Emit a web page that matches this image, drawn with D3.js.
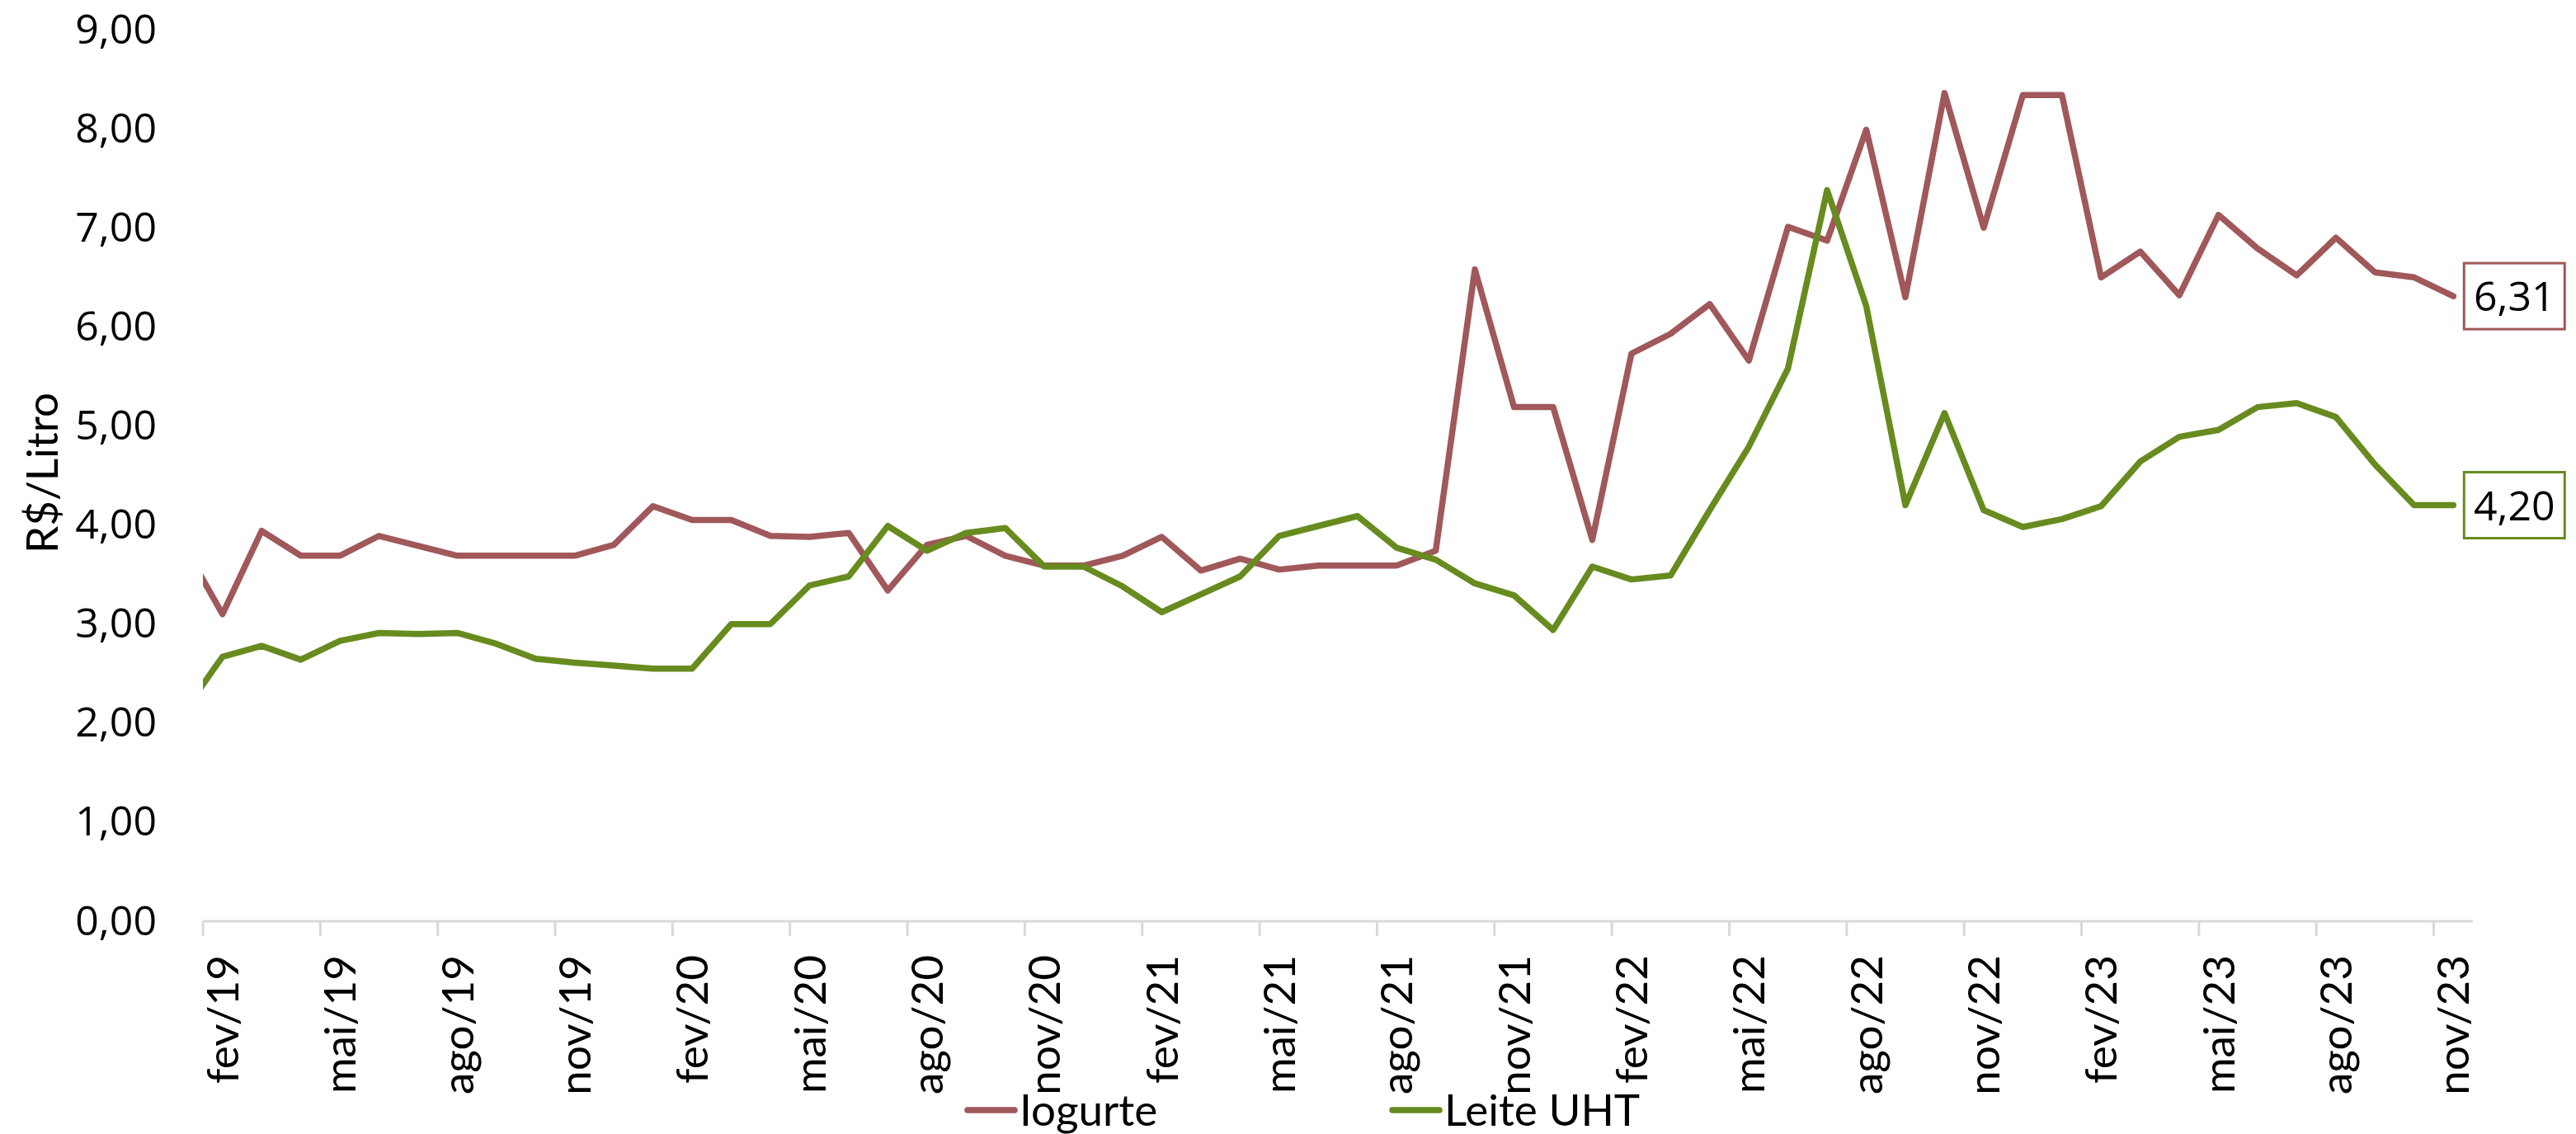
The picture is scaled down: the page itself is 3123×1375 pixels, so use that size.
<!DOCTYPE html>
<html>
<head>
<meta charset="utf-8">
<script src="https://cdn.jsdelivr.net/npm/d3@7"></script>
<style>
  body { margin: 0; background: #fff; }
  svg { display: block; }
  .tick text { fill: #000; }
</style>
</head>
<body>
<svg></svg>
<script>
// months, jan/19 sits just left of the plot and is clipped (axis starts at fev/19)
const months = [
  "jan/19","fev/19","mar/19","abr/19","mai/19","jun/19","jul/19","ago/19","set/19","out/19","nov/19","dez/19",
  "jan/20","fev/20","mar/20","abr/20","mai/20","jun/20","jul/20","ago/20","set/20","out/20","nov/20","dez/20",
  "jan/21","fev/21","mar/21","abr/21","mai/21","jun/21","jul/21","ago/21","set/21","out/21","nov/21","dez/21",
  "jan/22","fev/22","mar/22","abr/22","mai/22","jun/22","jul/22","ago/22","set/22","out/22","nov/22","dez/22",
  "jan/23","fev/23","mar/23","abr/23","mai/23","jun/23","jul/23","ago/23","set/23","out/23","nov/23"
];

const iogurte = [
  3.80, 3.10, 3.94, 3.69, 3.69, 3.89, 3.79, 3.69, 3.69, 3.69, 3.69, 3.80,
  4.19, 4.05, 4.05, 3.89, 3.88, 3.92, 3.34, 3.80, 3.89, 3.69, 3.59, 3.59,
  3.69, 3.88, 3.54, 3.66, 3.55, 3.59, 3.59, 3.59, 3.74, 6.58, 5.19, 5.19,
  3.85, 5.73, 5.93, 6.23, 5.66, 7.01, 6.87, 7.99, 6.30, 8.36, 7.00, 8.34,
  8.34, 6.50, 6.76, 6.32, 7.13, 6.79, 6.52, 6.90, 6.55, 6.50, 6.31
];

const leite = [
  2.11, 2.67, 2.78, 2.64, 2.83, 2.91, 2.90, 2.91, 2.80, 2.65, 2.61, 2.58,
  2.55, 2.55, 3.00, 3.00, 3.39, 3.48, 3.99, 3.74, 3.92, 3.97, 3.58, 3.58,
  3.38, 3.12, 3.30, 3.48, 3.89, 3.99, 4.09, 3.77, 3.65, 3.41, 3.29, 2.94,
  3.58, 3.45, 3.49, 4.15, 4.79, 5.58, 7.38, 6.21, 4.20, 5.13, 4.15, 3.98,
  4.06, 4.19, 4.64, 4.89, 4.96, 5.19, 5.23, 5.09, 4.61, 4.20, 4.20
];

const yTicks = [0, 1, 2, 3, 4, 5, 6, 7, 8, 9];
const xLabels = months.filter((m, i) => i > 0 && (i - 1) % 3 === 0);

const series = [
  { name: "Iogurte", values: iogurte, color: "#a0585a" },
  { name: "Leite UHT", values: leite, color: "#678b1f" }
];

const W = 3123, H = 1375;
const plot = { left: 246, right: 2998, top: 36, bottom: 1117 };
const step = (plot.right - plot.left) / (months.length - 1);

const svg = d3.select("svg").attr("width", W).attr("height", H);
svg.append("rect").attr("width", W).attr("height", H).attr("fill", "#fff");

const x = d3.scaleBand()
    .domain(months)
    .range([plot.left - step, plot.right])
    .paddingInner(0).paddingOuter(0);
const cx = m => x(m) + x.bandwidth() / 2;

const y = d3.scaleLinear().domain([0, 9]).range([plot.bottom, plot.top]);
const fmt = v => d3.format(".2f")(v).replace(".", ",");

svg.append("clipPath").attr("id", "plotclip")
  .append("rect")
    .attr("x", plot.left).attr("y", 0)
    .attr("width", plot.right - plot.left).attr("height", H);

// y axis (labels only)
const yAxis = svg.append("g")
    .attr("transform", "translate(" + plot.left + ",0)")
    .call(d3.axisLeft(y).tickValues(yTicks).tickFormat(fmt).tickSize(0).tickPadding(56));
yAxis.select(".domain").remove();
yAxis.selectAll("text")
    .style("font-family", "'Open Sans', sans-serif")
    .style("font-size", "50px");

svg.append("text")
    .attr("transform", "translate(70," + ((plot.top + plot.bottom) / 2 - 3) + ") rotate(-90)")
    .attr("text-anchor", "middle")
    .style("font-family", "Lato, sans-serif")
    .style("font-size", "53px")
    .text("R$/Litro");

// x axis
const xAxis = svg.append("g")
    .attr("transform", "translate(0," + plot.bottom + ")")
    .call(d3.axisBottom(x).tickValues(xLabels).tickSize(18));
xAxis.select(".domain").remove();
xAxis.selectAll(".tick line")
    .attr("x1", -step / 2).attr("x2", -step / 2)
    .attr("stroke", "#d9d9d9").attr("stroke-width", 3);
xAxis.selectAll(".tick text")
    .attr("transform", "rotate(-90)")
    .attr("x", -41).attr("y", 0).attr("dy", "0.36em")
    .style("text-anchor", "end")
    .style("font-family", "Lato, sans-serif")
    .style("font-size", "53px");
xAxis.append("line")
    .attr("x1", plot.left).attr("x2", plot.right)
    .attr("y1", 0).attr("y2", 0)
    .attr("stroke", "#d9d9d9").attr("stroke-width", 3);

// lines
const line = d3.line()
    .x((d, i) => cx(months[i]))
    .y(d => y(d));

svg.append("g").attr("clip-path", "url(#plotclip)")
  .selectAll("path")
  .data(series)
  .enter().append("path")
    .attr("d", d => line(d.values))
    .attr("fill", "none")
    .attr("stroke", d => d.color)
    .attr("stroke-width", 7.5)
    .attr("stroke-linejoin", "round")
    .attr("stroke-linecap", "round");

// end labels
const last = months.length - 1;
const endLab = svg.selectAll(".endlab")
    .data(series)
  .enter().append("g")
    .attr("class", "endlab")
    .attr("transform", d => "translate(" + (cx(months[last]) + 13) + "," + y(d.values[last]) + ")");
endLab.append("rect")
    .attr("x", 0).attr("y", -40)
    .attr("width", 122).attr("height", 80)
    .attr("fill", "#fff")
    .attr("stroke", d => d.color)
    .attr("stroke-width", 3);
endLab.append("text")
    .attr("x", 61).attr("dy", "0.36em")
    .attr("text-anchor", "middle")
    .style("font-family", "'Open Sans', sans-serif")
    .style("font-size", "50px")
    .text(d => fmt(d.values[last]));

// legend
const legendX = [1173, 1688];
const legend = svg.selectAll(".legend")
    .data(series)
  .enter().append("g")
    .attr("class", "legend")
    .attr("transform", (d, i) => "translate(" + legendX[i] + ",1346)");
legend.append("line")
    .attr("x1", 0).attr("x2", 57)
    .attr("stroke", d => d.color)
    .attr("stroke-width", 7.5)
    .attr("stroke-linecap", "round");
legend.append("text")
    .attr("x", 63).attr("dy", "0.36em")
    .style("font-family", "Lato, sans-serif")
    .style("font-size", "53px")
    .text(d => d.name);
</script>
</body>
</html>
